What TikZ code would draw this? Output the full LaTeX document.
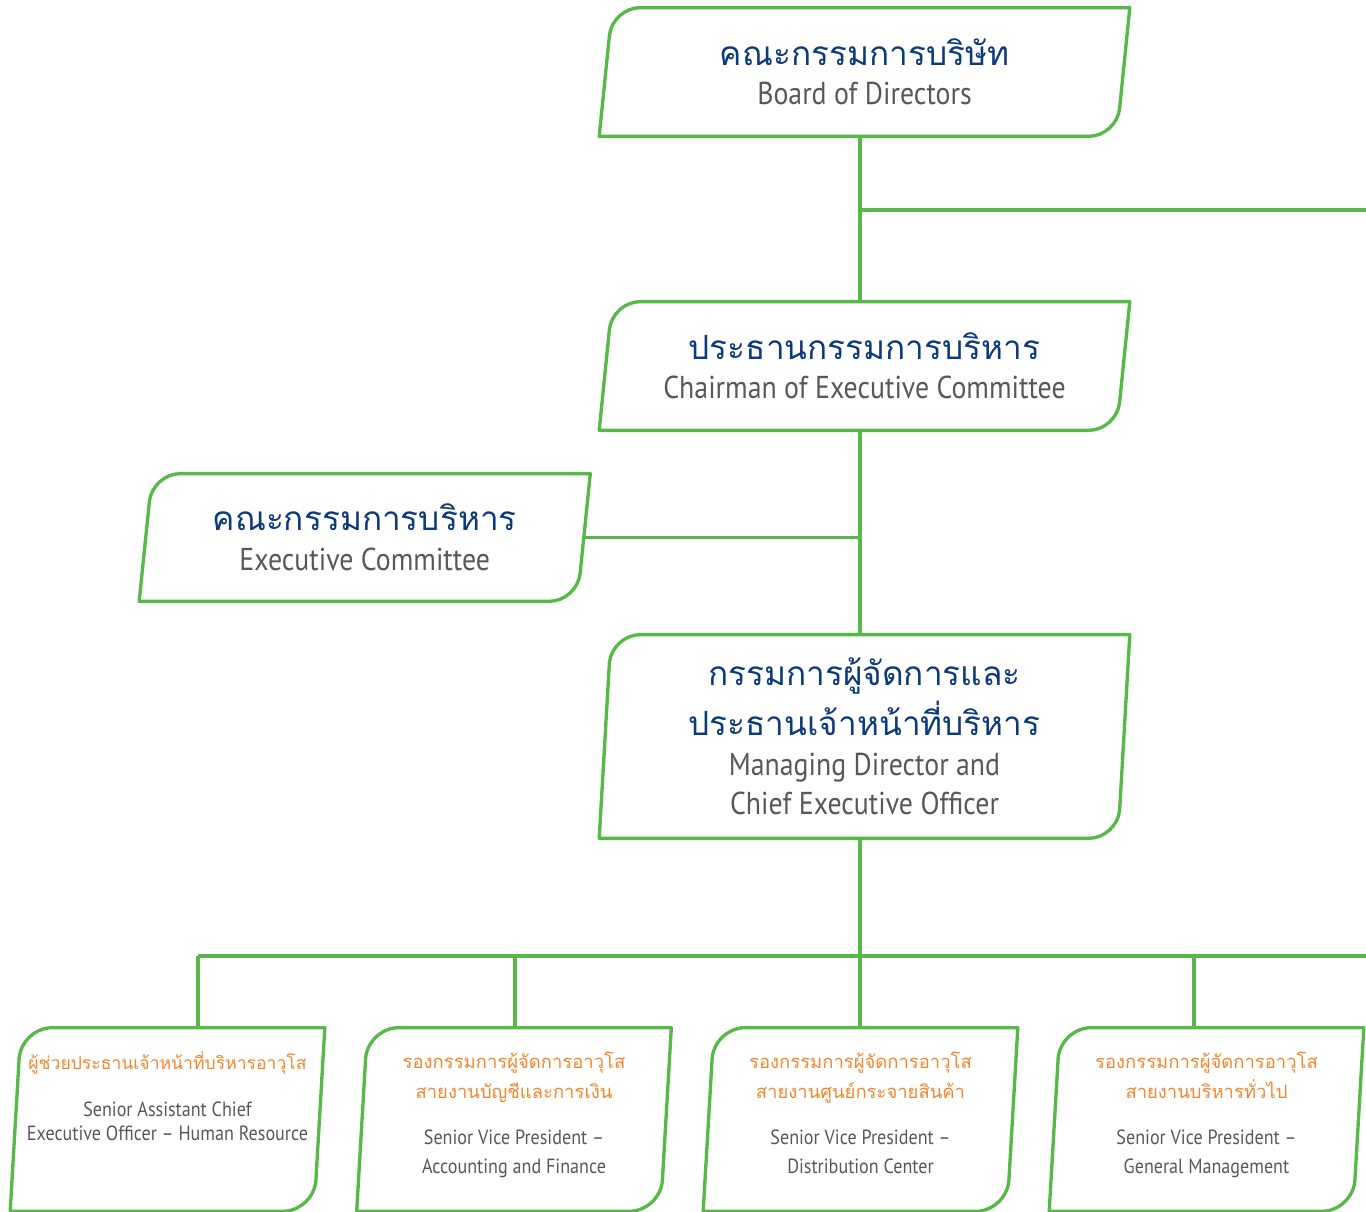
\documentclass[tikz,border=0pt]{standalone}
\usepackage{fontspec}
\newfontfamily\thaifont[Script=Thai]{Loma}
\newfontfamily\enfont{PT Sans}[FakeStretch=0.88]
\usetikzlibrary{calc}

\definecolor{orggreen}{RGB}{87,185,71}
\definecolor{orgblue}{RGB}{13,58,122}
\definecolor{orggray}{RGB}{88,88,90}
\definecolor{orgorange}{RGB}{245,134,46}

\newcommand{\thtitle}{\thaifont\fontsize{19}{22.5}\selectfont\color{orgblue}}
\newcommand{\entitle}{\enfont\fontsize{18}{22.5}\selectfont\color{orggray}}

% slanted frame round a node: node, half slant, corner
\newcommand{\slantframe}[3]{%
  \draw[orgframe] ($(#1.south west)+(-#2,0)$)
    -- ($(#1.north west)+(#2-#3*0.1,#3)$)
    .. controls ($(#1.north west)+(#2-#3*0.045,#3*0.45)$) and ($(#1.north west)+(#2+#3*0.45,0)$)
    .. ($(#1.north west)+(#2+#3,0)$)
    -- ($(#1.north east)+(#2,0)$)
    -- ($(#1.south east)+(-#2+#3*0.1,-#3)$)
    .. controls ($(#1.south east)+(-#2+#3*0.045,-#3*0.45)$) and ($(#1.south east)+(-#2-#3*0.45,0)$)
    .. ($(#1.south east)+(-#2-#3,0)$)
    -- cycle;}

\begin{document}
\begin{tikzpicture}[x=0.02cm, y=-0.02cm,
    orgframe/.style={draw=orggreen, line width=1.9pt, line join=round},
    link/.style={draw=orggreen, line width=1.9pt},
    bigbox/.style={minimum width=10.34cm, minimum height=2.56cm, inner sep=0pt, align=center,
      font=\fontsize{18}{22.5}\selectfont},
    subbox/.style={minimum width=6.04cm, minimum height=3.66cm, inner sep=0pt},
    thsub/.style={font=\thaifont\fontsize{10.5}{17}\selectfont, text=orgorange, align=center,
      inner sep=0pt, anchor=north},
    ensub/.style={font=\enfont\fontsize{11.7}{16.5}\selectfont, text=orggray, align=center,
      inner sep=0pt, anchor=north}]
  \useasboundingbox (0,0) rectangle (1366,1212);

  % top boxes
  \node[bigbox] (board) at (864.5,72) {\thtitle คณะกรรมการบริษัท\\\entitle Board of Directors};
  \node[bigbox] (chair) at (864.5,366) {\thtitle ประธานกรรมการบริหาร\\\entitle Chairman of Executive Committee};
  \node[bigbox, minimum width=8.75cm, minimum height=2.54cm] (exec) at (364.75,537.5)
    {\thtitle คณะกรรมการบริหาร\\\entitle Executive Committee};
  \node[bigbox, minimum height=4.06cm] (md) at (864.5,736.5)
    {\thtitle กรรมการผู้จัดการและ\\[3pt]\thtitle ประธานเจ้าหน้าที่บริหาร\\\entitle Managing Director and\\\entitle Chief Executive Officer};

  % bottom boxes
  \node[subbox] (sub1) at (167.5,1119.5) {};
  \node[subbox] (sub2) at (514,1119.5) {};
  \node[subbox] (sub3) at (860.5,1119.5) {};
  \node[subbox] (sub4) at (1206.5,1119.5) {};

  \node[thsub, font=\thaifont\fontsize{10}{17}\selectfont] (sub1th) at ($(sub1.north)+(0,23)$)
    {ผู้ช่วยประธานเจ้าหน้าที่บริหารอาวุโส};
  \node[ensub, font=\enfont\fontsize{11.7}{13.6}\selectfont] (sub1en) at ($(sub1.north)+(0,74)$)
    {Senior Assistant Chief\\Executive Officer – Human Resource};
  \node[thsub] (sub2th) at ($(sub2.north)+(0,24)$) {รองกรรมการผู้จัดการอาวุโส\\สายงานบัญชีและการเงิน};
  \node[ensub] (sub2en) at ($(sub2.north)+(0,102)$) {Senior Vice President –\\Accounting and Finance};
  \node[thsub] (sub3th) at ($(sub3.north)+(0,24)$) {รองกรรมการผู้จัดการอาวุโส\\สายงานศูนย์กระจายสินค้า};
  \node[ensub] (sub3en) at ($(sub3.north)+(0,102)$) {Senior Vice President –\\Distribution Center};
  \node[thsub] (sub4th) at ($(sub4.north)+(0,24)$) {รองกรรมการผู้จัดการอาวุโส\\สายงานบริหารทั่วไป};
  \node[ensub] (sub4en) at ($(sub4.north)+(0,102)$) {Senior Vice President –\\General Management};

  % connectors
  \coordinate (spine) at (860,0);
  \coordinate (boardtap) at (860,210);
  \coordinate (boardend) at (1366,210);
  \coordinate (drop1) at (198,956);
  \coordinate (drop2) at (515,956);
  \coordinate (drop3) at (860,956);
  \coordinate (drop4) at (1194,956);
  \coordinate (busend) at (1366,956);

  \draw[link] (board.south -| spine) -- (chair.north -| spine);
  \draw[link] (boardtap) -- (boardend);
  \draw[link] (chair.south -| spine) -- (md.north -| spine);
  \draw[link] (exec.east) -- (exec.east -| spine);
  \draw[link] (md.south -| spine) -- (drop3);
  \draw[link] (drop1) -- (busend);
  \foreach \i in {1,...,4}
    \draw[link] (drop\i) -- (drop\i |- sub\i.north);

  \foreach \n in {board, chair, exec, md}
    \slantframe{\n}{6.5}{28};
  \foreach \n in {sub1, sub2, sub3, sub4}
    \slantframe{\n}{6}{30};
\end{tikzpicture}
\end{document}
